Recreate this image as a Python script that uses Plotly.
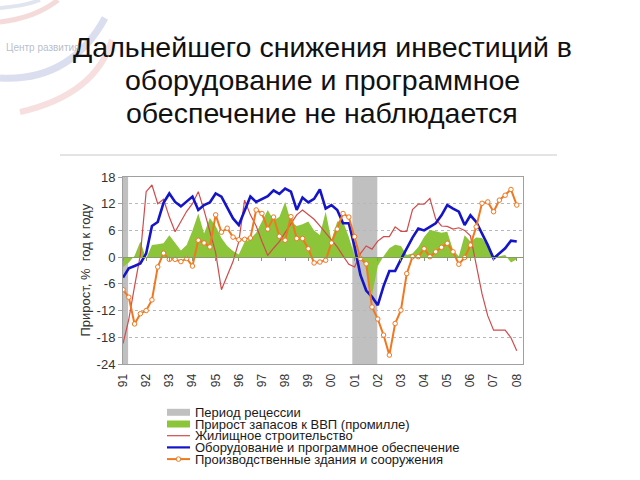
import plotly.graph_objects as go

# ---------------- data (quarterly, 1991Q1 .. 2008Q1) ----------------
start_year = 1991
n_quarters = 69
quarters = [start_year + 0.25 * k for k in range(n_quarters)]

recession_start = [1991.0, 2000.9]
recession_end = [1991.22, 2001.98]

inventories = [-2.2, -1.2, 0.3, 3.5, -0.3, 2.7, 2.9, 3.1, 4.9, 3.2,
               1.5, 2.7, 6.0, 9.8, 5.3, 8.8, 7.0, 4.3, 2.5, 1.4,
               0.6, 3.4, 4.0, 5.5, 8.0, 10.6, 8.3, 9.0, 12.4, 8.0,
               7.0, 7.4, 8.0, 6.0, 5.0, 10.2, 3.8, 8.0, 8.0, 4.5,
               0.3, -0.5, -2.0, -8.5, -2.0, 0.2, 2.0, 2.8, 2.5, 0.5,
               0.8, 2.3, 4.5, 6.1, 5.8, 5.5, 5.7, 1.6, 0.2, 4.9,
               3.5, 4.4, 4.3, 2.5, 0.3, 0.2, 0.5, -1.2, -0.5]

housing = [-19.4, -14.0, -6.5, 0.5, 14.7, 16.2, 12.0, 13.0, 9.0, 5.7,
           8.0, 10.3, 12.0, 14.7, 10.5, 6.0, 1.0, -7.3, -4.2, -1.0,
           3.5, 12.8, 9.5, 7.0, 3.5, 0.4, 2.0, 3.5, 5.5, 7.5,
           9.5, 10.6, 9.6, 8.5, 7.0, 5.5, 3.8, 2.3, 0.3, -1.6,
           -2.2, 0.8, 2.5, 1.8, 3.6, 4.6, 4.6, 6.8, 5.8, 5.8,
           10.7, 11.9, 11.9, 13.2, 8.6, 7.0, 6.9, 6.3, 6.6, 6.0,
           4.8, -1.5, -8.2, -13.2, -16.4, -16.4, -16.4, -18.1, -21.0]

equipment = [-4.6, -2.5, -2.0, -1.4, 0.8, 7.0, 7.9, 12.2, 14.3, 12.4,
             11.4, 12.4, 13.6, 10.6, 11.7, 12.3, 14.3, 13.6, 11.0, 8.7,
             7.2, 10.6, 13.6, 12.4, 13.0, 13.7, 15.0, 14.2, 15.4, 14.7,
             10.6, 13.4, 12.3, 13.1, 15.2, 10.9, 11.7, 10.6, 7.6, 7.6,
             2.3, -4.0, -7.5, -8.9, -10.8, -6.5, -3.1, -3.1, -0.5, 2.0,
             4.4, 6.4, 6.0, 6.8, 7.6, 9.4, 11.7, 10.9, 10.2, 7.2,
             9.4, 7.9, 5.3, 2.7, -0.3, 0.8, 2.0, 3.7, 3.5]

structures = [-7.3, -9.0, -15.0, -12.7, -12.0, -9.6, -2.2, 0.9, -0.5, -0.5,
              -1.0, -0.3, -2.0, 3.8, 3.2, 2.3, 9.5, 5.6, 6.5, 4.5,
              3.9, 4.0, 4.3, 10.6, 9.8, 6.3, 9.0, 4.7, 3.8, 9.1,
              4.2, 4.2, 1.9, -1.3, -1.1, -0.7, 3.2, 6.3, 9.8, 9.0,
              4.6, -0.3, -1.5, -11.2, -13.9, -17.5, -22.0, -14.9, -11.9, -3.7,
              0.1, 0.1, 1.9, 0.1, 1.2, 2.2, 3.1, 1.2, -1.6, -0.1,
              2.7, 6.8, 12.1, 12.4, 10.2, 12.8, 13.9, 15.2, 11.7]

year_ticks = list(range(1991, 2009))
year_labels = ['91', '92', '93', '94', '95', '96', '97', '98', '99',
               '00', '01', '02', '03', '04', '05', '06', '07', '08']
y_ticks = [-24, -18, -12, -6, 0, 6, 12, 18]
y_labels = ['-24', '-18', '-12', '-6', '0', '6', '12', '18']

legend_names = ['Период рецессии',
                'Прирост запасов к ВВП (промилле)',
                'Жилищное строительство',
                'Оборудование и программное обеспечение',
                'Производственные здания и сооружения']

title_lines = ['Дальнейшего снижения инвестиций в',
               'оборудование и программное',
               'обеспечение не наблюдается']
y_title = 'Прирост, %  год к году'

# ---------------- styling ----------------
GRAY = '#c0c0c0'
GREEN = '#8cc43a'
RED = '#d24b4b'
BLUE = '#1414c8'
ORANGE = '#f07820'
FONT = 'Arial, Liberation Sans, sans-serif'

W, H = 640, 480
L, R, T, B = 123, 523, 177, 364
YMIN, YMAX = -24, 18
XMIN, XMAX = 1991.0, 2008.27


def fx(px):
    return (px - L) / (R - L)


def fy(py):
    return (B - py) / (B - T)


fig = go.Figure()

fig.add_trace(go.Scatter(x=quarters, y=inventories, name=legend_names[1],
                         mode='lines', fill='tozeroy', fillcolor=GREEN,
                         line=dict(width=0, color=GREEN), showlegend=False))
fig.add_trace(go.Scatter(x=quarters, y=housing, name=legend_names[2],
                         mode='lines', line=dict(width=1.2, color=RED),
                         showlegend=False))
fig.add_trace(go.Scatter(x=quarters, y=equipment, name=legend_names[3],
                         mode='lines', line=dict(width=2.6, color=BLUE),
                         showlegend=False))
fig.add_trace(go.Scatter(x=quarters, y=structures, name=legend_names[4],
                         mode='lines+markers', line=dict(width=2, color=ORANGE),
                         marker=dict(size=4.5, color='white',
                                     line=dict(width=1, color=ORANGE)),
                         showlegend=False))
# helper trace for the category axis drawn through zero
fig.add_trace(go.Scatter(x=[quarters[0]], y=[None], xaxis='x2',
                         showlegend=False, hoverinfo='skip'))

shapes = []
for s, e in zip(recession_start, recession_end):
    shapes.append(dict(type='rect', xref='x', yref='paper', x0=s, x1=e,
                       y0=0, y1=1, fillcolor=GRAY, line=dict(width=0),
                       layer='below'))

# separator line under the title
shapes.append(dict(type='line', xref='paper', yref='paper',
                   x0=fx(60), x1=fx(557), y0=fy(155), y1=fy(155),
                   line=dict(color='#c8c8c8', width=1)))


# faint logo swooshes (top-left)
def path(points):
    (x0, y0), (cx, cy), (x1, y1) = points
    return 'M %f,%f Q %f,%f %f,%f' % (fx(x0), fy(y0), fx(cx), fy(cy), fx(x1), fy(y1))


swooshes = [
    ([(0, 22), (35, 18), (58, 0)], 'rgba(225,150,150,0.35)', 5),
    ([(0, 8), (25, 6), (40, 0)], 'rgba(170,180,210,0.35)', 4),
    ([(0, 78), (70, 82), (105, 18)], 'rgba(150,160,210,0.35)', 7),
    ([(20, 112), (95, 95), (112, 40)], 'rgba(230,150,150,0.30)', 6),
]
for pts, col, wdt in swooshes:
    shapes.append(dict(type='path', xref='paper', yref='paper', path=path(pts),
                       line=dict(color=col, width=wdt), layer='below'))

# manual legend
leg_rows = [412.3, 424.0, 435.7, 447.4, 459.1]
sx0, sx1 = 167, 190
shapes.append(dict(type='rect', xref='paper', yref='paper', x0=fx(sx0), x1=fx(sx1),
                   y0=fy(leg_rows[0] + 3.5), y1=fy(leg_rows[0] - 3.5),
                   fillcolor=GRAY, line=dict(width=0)))
shapes.append(dict(type='rect', xref='paper', yref='paper', x0=fx(sx0), x1=fx(sx1),
                   y0=fy(leg_rows[1] + 3.5), y1=fy(leg_rows[1] - 3.5),
                   fillcolor=GREEN, line=dict(width=0)))
for row, col, wdt in [(2, RED, 1.2), (3, BLUE, 2.2), (4, ORANGE, 2)]:
    shapes.append(dict(type='line', xref='paper', yref='paper', x0=fx(sx0), x1=fx(sx1),
                       y0=fy(leg_rows[row]), y1=fy(leg_rows[row]),
                       line=dict(color=col, width=wdt)))
cxm = (sx0 + sx1) / 2
shapes.append(dict(type='circle', xref='paper', yref='paper',
                   x0=fx(cxm - 2.3), x1=fx(cxm + 2.3),
                   y0=fy(leg_rows[4] + 2.3), y1=fy(leg_rows[4] - 2.3),
                   fillcolor='white', line=dict(color=ORANGE, width=1)))

annotations = []
for name, row in zip(legend_names, leg_rows):
    annotations.append(dict(text=name, xref='paper', yref='paper', x=fx(193), y=fy(row),
                            xanchor='left', yanchor='middle', showarrow=False,
                            font=dict(family=FONT, size=13, color='#1a1a1a')))

for line, py in zip(title_lines, [47, 80, 113]):
    annotations.append(dict(text=line, xref='paper', yref='paper',
                            x=fx(322), y=fy(py), xanchor='center', yanchor='middle',
                            showarrow=False,
                            font=dict(family=FONT, size=28.5, color='#111111')))
annotations.append(dict(text=y_title, xref='paper', yref='paper',
                        x=fx(85), y=0.5, xanchor='center', yanchor='middle',
                        textangle=-90, showarrow=False,
                        font=dict(family=FONT, size=13, color='#333333')))
annotations.append(dict(text='Центр развития', xref='paper', yref='paper',
                        x=fx(4), y=fy(47), xanchor='left', yanchor='middle',
                        showarrow=False,
                        font=dict(family=FONT, size=10, color='rgba(150,160,180,0.7)')))

fig.update_layout(
    width=W, height=H, autosize=False,
    margin=dict(l=L, r=W - R, t=T, b=H - B, pad=0),
    paper_bgcolor='white', plot_bgcolor='white',
    showlegend=False,
    shapes=shapes, annotations=annotations,
    xaxis=dict(range=[XMIN, XMAX], tickvals=year_ticks, ticktext=year_labels,
               tickangle=-90, showgrid=False, zeroline=False,
               showline=True, linecolor='#a0a0a0', linewidth=1, mirror=True,
               ticks='', ticklabelstandoff=4,
               tickfont=dict(family=FONT, size=12, color='#333333')),
    xaxis2=dict(overlaying='x', matches='x', anchor='free',
                position=(0 - YMIN) / (YMAX - YMIN), side='bottom',
                tickvals=year_ticks, showticklabels=False, showgrid=False,
                zeroline=False, showline=True, linecolor='#8a9a6a', linewidth=1,
                ticks='outside', ticklen=3, tickcolor='#8a9a6a'),
    yaxis=dict(range=[YMIN, YMAX], tickvals=y_ticks, ticktext=y_labels,
               showgrid=True, gridcolor='#b8b8b8', griddash='dot', gridwidth=1,
               zeroline=False, showline=True, linecolor='#a0a0a0', linewidth=1,
               mirror=True, ticks='outside', ticklen=4, tickcolor='#a0a0a0',
               tickfont=dict(family=FONT, size=13, color='#333333')),
)

fig.write_html('out.html')
